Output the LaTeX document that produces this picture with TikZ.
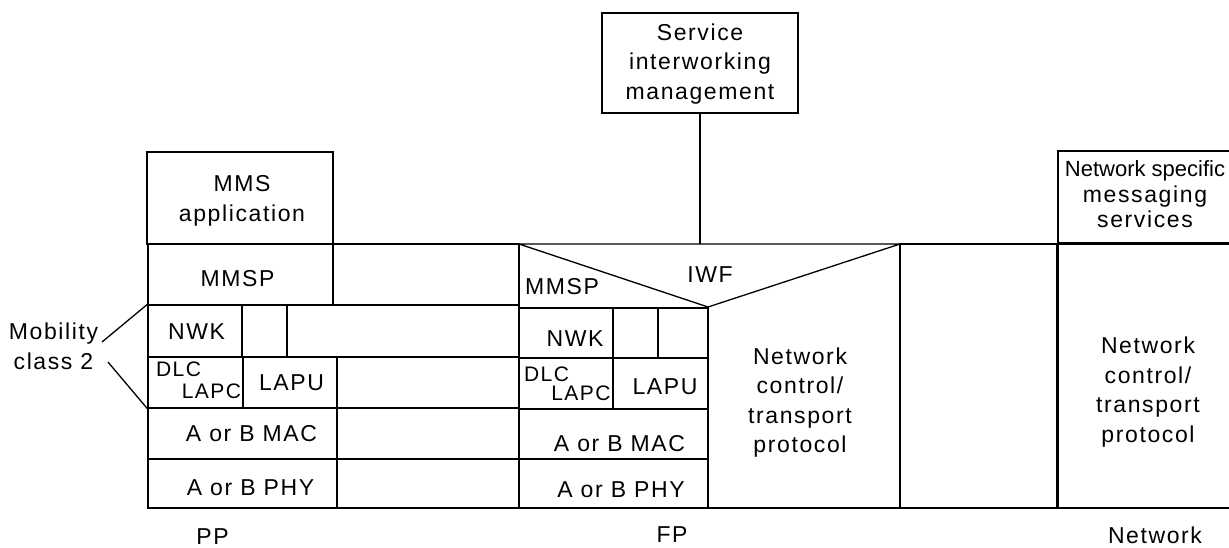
\documentclass[tikz,border=0pt]{standalone}
\usepackage{fontspec}
\setmainfont{Liberation Sans}[LetterSpace=7]
\usetikzlibrary{fit}
\tikzstyle{cell}=[draw, inner sep=0pt]
\tikzstyle{lbl}=[inner sep=0pt, align=center]
\tikzstyle{small}=[inner sep=0pt, font=\fontsize{21}{21}\selectfont]
\tikzstyle{heavy}=[line width=2.4pt]

\begin{document}
\begin{tikzpicture}[x=1pt,y=-1pt,line width=1.3pt,font=\fontsize{23}{29.5}\selectfont]
    \useasboundingbox (0,0) rectangle (1229,547);
    \clip (0,0) rectangle (1229,547);

    % PP stack
    \node [cell, fit={(147,152) (333,244)}] (mmsapp) {};
    \node [cell, fit={(148,244) (333,305)}] (mmsppp) {};
    \node [cell, fit={(148,305) (242,357)}] (nwkpp) {};
    \node [cell, fit={(242,305) (287,357)}] (nwkppb) {};
    \node [cell, fit={(148,357) (243,408)}] (dlcpp) {};
    \node [cell, fit={(243,357) (337,408)}] (lapupp) {};
    \node [cell, fit={(148,408) (337,459)}] (macpp) {};
    \node [cell, fit={(148,459) (337,508)}] (phypp) {};
    \node [cell, fit={(333,244) (519,305)}] (extA) {};
    \node [cell, fit={(287,305) (519,357)}] (extB) {};
    \node [cell, fit={(337,357) (519,408)}] (extC) {};
    \node [cell, fit={(337,408) (519,459)}] (extD) {};
    \node [cell, fit={(337,459) (519,508)}] (extE) {};

    \node [lbl] (tmmsapp) at (242,201) {MMS\\application};
    \node [lbl] (tmmsppp) at (237.5,278.5) {MMSP};
    \node [lbl] (tnwkpp) at (196.5,331.5) {NWK};
    \node [small] (tdlcpp) at (178.5,369) {DLC};
    \node [small] (tlapcpp) at (211.5,391) {LAPC};
    \node [lbl] (tlapupp) at (291.5,382.5) {LAPU};
    \node [lbl] (tmacpp) at (251.5,434) {A or B MAC};
    \node [lbl] (tphypp) at (250.5,487.5) {A or B PHY};

    % mobility class
    \node [lbl] (mob) at (53.5,346.5) {Mobility\\class 2};
    \coordinate (mobA) at (102,342);
    \coordinate (mobB) at (108,362);
    \draw (mobA) -- (nwkpp.north west);
    \draw (mobB) -- (dlcpp.south west);

    % FP stack and IWF
    \coordinate (iwfL) at (519,244);
    \coordinate (iwfR) at (900,244);
    \coordinate (iwfV) at (708,307);
    \draw (519,308) -- (iwfL) -- (iwfR) -- (iwfV) -- (iwfL);
    \node [cell, fit={(519,308) (613,358)}] (nwkfp) {};
    \node [cell, fit={(613,308) (658,358)}] (nwkfpb) {};
    \node [cell, fit={(658,308) (708,358)}] (nwkfpc) {};
    \node [cell, fit={(519,358) (613,409)}] (dlcfp) {};
    \node [cell, fit={(613,358) (708,409)}] (lapufp) {};
    \node [cell, fit={(519,409) (708,459)}] (macfp) {};
    \node [cell, fit={(519,459) (708,508)}] (phyfp) {};
    \draw (iwfV) |- (900,508);

    \node [lbl] (tmmspfp) at (562,287) {MMSP};
    \node [lbl] (tiwf) at (710,274.5) {IWF};
    \node [lbl] (tnwkfp) at (575,339) {NWK};
    \node [small] (tdlcfp) at (546.5,374) {DLC};
    \node [small] (tlapcfp) at (581,393) {LAPC};
    \node [lbl] (tlapufp) at (665,387) {LAPU};
    \node [lbl] (tmacfp) at (619.5,444) {A or B MAC};
    \node [lbl] (tphyfp) at (621,490) {A or B PHY};
    \node [lbl] (tncfp) at (800,402.5) {Network\\control/\\transport\\protocol};

    % service interworking management
    \node [cell, fit={(602,13) (798,113)}] (siw) {};
    \node [lbl] (tsiw) at (700,64) {Service\\interworking\\management};
    \draw (siw.south) -- (siw.south |- iwfL);

    % network side
    \node [cell, fit={(900,244) (1058,508)}] (mid) {};
    \node [cell, fit={(1058,151) (1238,244)}] (netspec) {};
    \node [cell, fit={(1058,244) (1238,508)}] (netctl) {};
    \draw [heavy] (netctl.north west) -- (netctl.north east);
    \draw [line width=2pt] (netctl.north west) -- (netctl.south west);
    \node [lbl, font=\fontsize{23}{25.5}\selectfont] (tnetspec) at (1145,194.3)
      {{\fontsize{22}{25.5}\selectfont\addfontfeature{LetterSpace=0}Network specific}\\messaging\\services};
    \node [lbl] (tncnet) at (1148,392) {Network\\control/\\transport\\protocol};

    % bottom labels
    \node [lbl] (tpp) at (212.5,536.5) {PP};
    \node [lbl] (tfp) at (672,535) {FP};
    \node [lbl] (tnet) at (1155,535) {Network};
\end{tikzpicture}
\end{document}
